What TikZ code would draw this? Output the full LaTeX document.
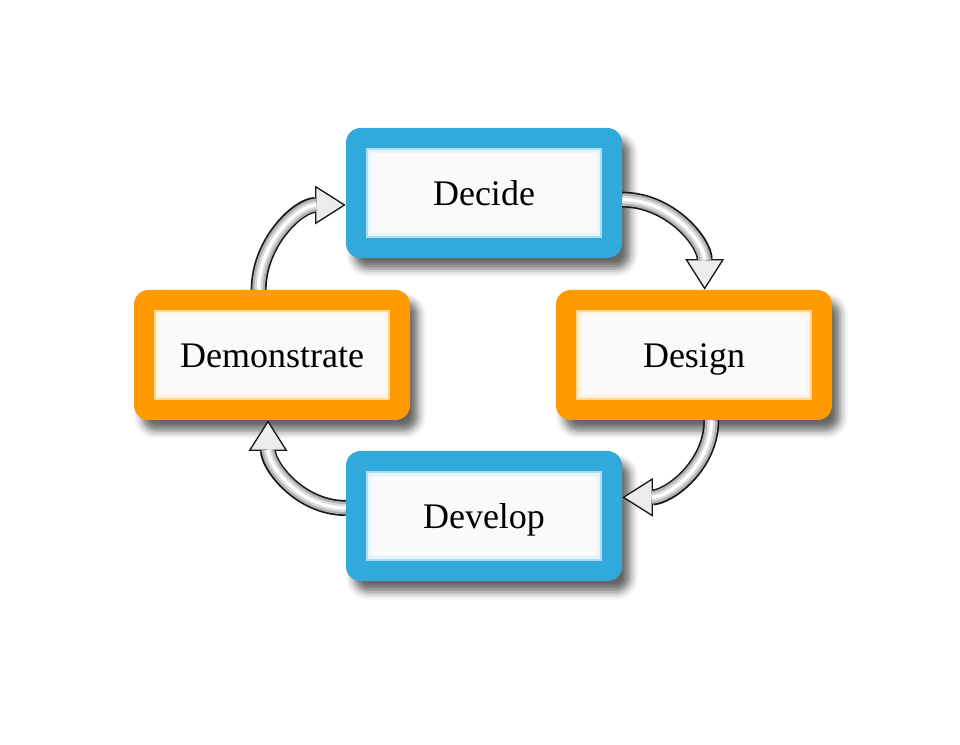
\documentclass[tikz,border=0pt]{standalone}
\usepackage{fontspec}
\setmainfont{Liberation Serif}
\usepackage{xcolor}
\usetikzlibrary{arrows.meta,shadows.blur}
\begin{document}
\begin{tikzpicture}[x=0.75pt,y=0.75pt,
  stage/.style={rounded corners=11pt,minimum width=207pt,minimum height=97.5pt,
    fill=#1,font=\fontsize{27}{31}\selectfont,text height=21pt,text depth=1.5pt,
    blur shadow={shadow xshift=6pt,shadow yshift=-8pt,shadow blur radius=6pt,shadow opacity=60},
    path picture={
      \fill[#1!40!white,sharp corners] ([shift={(15pt,15pt)}]path picture bounding box.south west) rectangle ([shift={(-15pt,-15pt)}]path picture bounding box.north east);
      \fill[#1!12!white,sharp corners] ([shift={(16.5pt,16.5pt)}]path picture bounding box.south west) rectangle ([shift={(-16.5pt,-16.5pt)}]path picture bounding box.north east);
      \fill[white!98!black,sharp corners] ([shift={(18.5pt,18.5pt)}]path picture bounding box.south west) rectangle ([shift={(-18.5pt,-18.5pt)}]path picture bounding box.north east);}},
  flow/.style={
    preaction={draw=black!90,line width=12pt,-{Triangle[width=29pt,length=23pt,line width=1pt,fill=gray!15]}},
    preaction={draw=gray!60,line width=9.5pt,shorten >=22pt},
    preaction={draw=gray!30,line width=6pt,shorten >=22pt},
    preaction={draw=white,line width=2.5pt,shorten >=22pt}}]
\definecolor{skyblue}{HTML}{31A9DA}
\definecolor{amber}{HTML}{FF9A00}
\useasboundingbox (0,0) rectangle (960,745);
  \foreach \name/\txt/\crlr/\x/\y in {decide/Decide/skyblue/484/552,design/Design/amber/694/390,develop/Develop/skyblue/484/229,demonstrate/Demonstrate/amber/272/390}
  {  \node [stage=\crlr] (\name) at (\x,\y) {\txt};}
\path[flow] ([yshift=-5pt]decide.east) to[out=0,in=90] ([xshift=8pt]design.north);
\path[flow] ([xshift=13pt]design.south) to[out=-90,in=0] ([yshift=14pt]develop.east);
\path[flow] ([yshift=6pt]develop.west) to[out=180,in=-90] ([xshift=-3pt]demonstrate.south);
\path[flow] ([xshift=-10pt]demonstrate.north) to[out=90,in=180] ([yshift=-9pt]decide.west);
\end{tikzpicture}
\end{document}
